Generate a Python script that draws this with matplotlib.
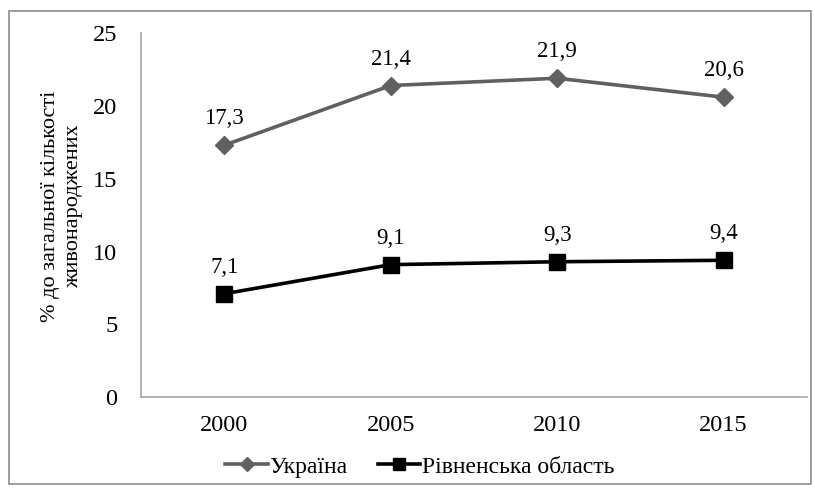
import matplotlib
matplotlib.use("Agg")
import matplotlib.pyplot as plt
from matplotlib.patches import Rectangle

plt.rcParams['font.family'] = ['Liberation Serif', 'DejaVu Serif']

years = ["2000", "2005", "2010", "2015"]
ukraine = [17.3, 21.4, 21.9, 20.6]
rivne = [7.1, 9.1, 9.3, 9.4]
series_names = ["Україна", "Рівненська область"]
y_ticks = [0, 5, 10, 15, 20, 25]
y_label = "% до загальної кількості\nживонароджених"

fig = plt.figure(figsize=(8.15, 4.94), dpi=100)
ax = fig.add_axes([0.173, 0.196, 0.817, 0.737])

x = list(range(len(years)))
ax.plot(x, ukraine, color="#606060", lw=2.6, marker="D", ms=9, label=series_names[0])
ax.plot(x, rivne, color="#000000", lw=2.6, marker="s", ms=11, label=series_names[1])

for xi, v in zip(x, ukraine):
    ax.annotate(f"{v:.1f}".replace(".", ","), (xi, v), xytext=(0, 11.5), textcoords="offset points",
                ha="center", va="bottom", fontsize=16.5)
for xi, v in zip(x, rivne):
    ax.annotate(f"{v:.1f}".replace(".", ","), (xi, v), xytext=(0, 11.5), textcoords="offset points",
                ha="center", va="bottom", fontsize=16.5)

ax.set_xlim(-0.5, len(years) - 0.5)
ax.set_ylim(0, 25)
ax.set_xticks(x)
ax.set_xticklabels(years)
ax.set_yticks(y_ticks)
ax.tick_params(axis="both", length=0, labelsize=17.5)
ax.tick_params(axis="x", pad=12.5)
ax.tick_params(axis="y", pad=17)
for s in ["top", "right"]:
    ax.spines[s].set_visible(False)
for s in ["left", "bottom"]:
    ax.spines[s].set_color("#a6a6a6")
    ax.spines[s].set_linewidth(1.2)

fig.text(62 / 815, 1 - 206 / 494, y_label, rotation=90, ha="center", va="center",
         multialignment="center", fontsize=16, linespacing=1.25)

leg = fig.legend(loc="center", bbox_to_anchor=(0.515, 0.055), ncol=2, frameon=False,
                 fontsize=17, handlelength=1.8, handletextpad=0.05, columnspacing=1.3,
                 markerscale=0.75)

fig.patches.append(Rectangle((0.011, 0.02), 0.984, 0.958, transform=fig.transFigure,
                             fill=False, edgecolor="#8c8c8c", lw=1.2))

fig.savefig("out.png", dpi=100)
